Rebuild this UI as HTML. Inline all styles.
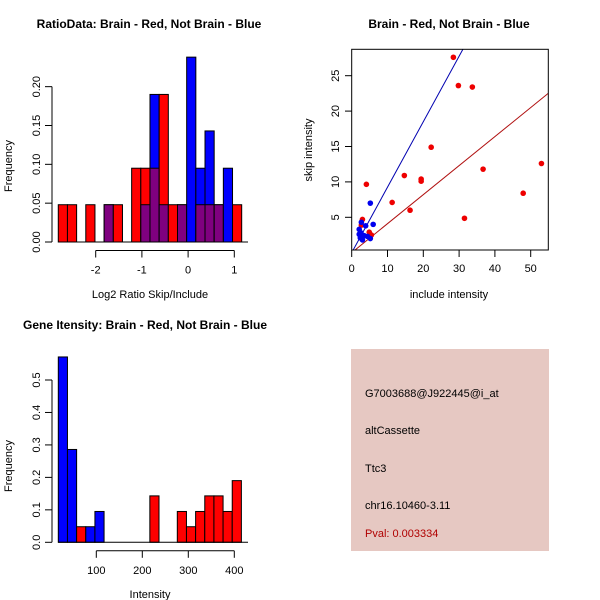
<!DOCTYPE html>
<html><head><meta charset="utf-8"><style>
body{margin:0;background:#fff}
svg{display:block;font-family:"Liberation Sans",sans-serif}
</style></head><body>
<svg id="s" width="600" height="600" viewBox="0 0 600 600">
<rect width="600" height="600" fill="#fff"/>
<text x="149" y="28" text-anchor="middle" font-weight="bold" font-size="12">RatioData: Brain - Red, Not Brain - Blue</text>
<text x="449" y="28" text-anchor="middle" font-weight="bold" font-size="12">Brain - Red, Not Brain - Blue</text>
<text x="145" y="329" text-anchor="middle" font-weight="bold" font-size="12">Gene Itensity: Brain - Red, Not Brain - Blue</text>
<g id="p1"></g>
<g id="p2"></g>
<g id="p3"></g>
<g>
<rect x="351" y="349" width="198" height="202" fill="#E6C8C2"/>
<text x="365" y="397" font-size="11">G7003688@J922445@i_at</text>
<text x="365" y="434" font-size="11">altCassette</text>
<text x="365" y="472" font-size="11">Ttc3</text>
<text x="365" y="509" font-size="11">chr16.10460-3.11</text>
<text x="365" y="537" font-size="11" fill="#B00000">Pval: 0.003334</text>
</g>
</svg>
<script>
// ratio histogram
const ratioRed  = [0.048,0.048,0,0.048,0,0.048,0.048,0,0.095,0.095,0.095,0.19,0.048,0.048,0,0.048,0.048,0.048,0,0.048];
const ratioBlue = [0,0,0,0,0,0.048,0,0,0,0.048,0.19,0.048,0,0.048,0.238,0.095,0.143,0.048,0.095,0];
const ratioXTicks = [-2,-1,0,1];
const ratioYTicks = ["0.00","0.05","0.10","0.15","0.20"];
const ratioStart = -2.81, ratioBin = 0.1985;
// intensity histogram
const intRed  = [0,0,0.048,0,0,0,0,0,0,0,0.143,0,0,0.095,0.048,0.095,0.143,0.143,0.095,0.19];
const intBlue = [0.571,0.286,0,0.048,0.095,0,0,0,0,0,0,0,0,0,0,0,0,0,0,0];
const intXTicks = [100,200,300,400];
const intYTicks = ["0.0","0.1","0.2","0.3","0.4","0.5"];
const intStart = 17.4, intBin = 19.9;
// scatter
const redX = [28.4,29.8,33.7,22.2,14.7,19.4,19.4,36.7,53,47.9,11.3,16.3,31.5,4.1,3.0,4.9,5.5,2.7];
const redY = [27.6,23.6,23.4,14.9,10.9,10.4,10.1,11.8,12.6,8.4,7.1,6.0,4.86,9.66,4.7,2.9,2.5,3.9];
const blueX = [5.2,6.0,2.7,3.9,2.1,2.6,3.5,2.4,3.0,5.2,4.4,2.1];
const blueY = [7.0,4.0,4.3,3.8,3.3,2.8,2.4,2.1,1.8,2.0,2.3,2.6];
const sXTicks = [0,10,20,30,40,50];
const sYTicks = [5,10,15,20,25];
const blueSlope = 0.925, redSlope = 0.41;

const NS="http://www.w3.org/2000/svg";
function mk(p,t,a,txt){const e=document.createElementNS(NS,t);for(const k in a)e.setAttribute(k,a[k]);if(txt!=null)e.textContent=txt;p.appendChild(e);return e;}

function hist(g,red,blue,start,bin,xs,ys,y0,xPx0,xPx1,yScale,xTicks,yTicks,xlab,xlabY){
  const X=v=>xs(v), Y=v=>y0-v*yScale;
  for(let i=0;i<red.length;i++){
    const a=X(start+i*bin), b=X(start+(i+1)*bin);
    const r=red[i], bl=blue[i], mn=Math.min(r,bl), mx=Math.max(r,bl);
    if(mx>0){
      let e=mk(g,'rect',{x:a,y:Y(mx),width:b-a,height:Y(0)-Y(mx),fill:r>=bl?'#FF0000':'#0000FF',stroke:'#000','stroke-width':1});
      
      
    }
    if(mn>0){
      let e=mk(g,'rect',{x:a,y:Y(mn),width:b-a,height:Y(0)-Y(mn),fill:'#7F007F',stroke:'#000','stroke-width':1});
      
      
    }
  }
  mk(g,'line',{x1:xPx0,x2:xPx1,y1:y0,y2:y0,stroke:'#000'});
  const yv=yTicks.map(Number);
  mk(g,'line',{x1:52,x2:52,y1:Y(yv[0]),y2:Y(yv[yv.length-1]),stroke:'#000'});
  yTicks.forEach(t=>{const y=Y(+t);mk(g,'line',{x1:45,x2:52,y1:y,y2:y,stroke:'#000'});
    let e=mk(g,'text',{x:0,y:0,'font-size':11,'text-anchor':'middle',transform:`translate(40,${y}) rotate(-90)`},t);
    
    });
  const ay=y0+8.5;
  mk(g,'line',{x1:X(xTicks[0]),x2:X(xTicks[xTicks.length-1]),y1:ay,y2:ay,stroke:'#000'});
  xTicks.forEach(t=>{const x=X(t);mk(g,'line',{x1:x,x2:x,y1:ay,y2:ay+7,stroke:'#000'});
    let e=mk(g,'text',{x:x,y:ay+23,'font-size':11,'text-anchor':'middle'},String(t));
    
    });
  let e=mk(g,'text',{x:0,y:0,'font-size':11,'text-anchor':'middle',transform:`translate(12,${y0-yScale*0.12-60}) rotate(-90)`},'Frequency');
  
  
  e=mk(g,'text',{x:150,y:xlabY,'font-size':11,'text-anchor':'middle'},xlab);
  
  
}
const g1=document.getElementById('p1');
hist(g1,ratioRed,ratioBlue,ratioStart,ratioBin,v=>95.7+(v+2)*46.2,null,242,58,248,776.7,ratioXTicks,ratioYTicks,'Log2 Ratio Skip/Include',298);
g1.lastChild.previousSibling.setAttribute('transform','translate(12,166) rotate(-90)');
const g3=document.getElementById('p3');
hist(g3,intRed,intBlue,intStart,intBin,v=>96.3+(v-100)*0.46,null,542.3,58,248,324.6,intXTicks,intYTicks,'Intensity',598);
g3.lastChild.previousSibling.setAttribute('transform','translate(12,466) rotate(-90)');

// scatter
const g2=document.getElementById('p2');
const SX=v=>351.7+v*3.58, SY=v=>252.7-v*7.08;
mk(g2,'defs',{}).innerHTML='<clipPath id="cp"><rect x="351.7" y="49.3" width="196.6" height="200.7"/></clipPath>';
const cl=mk(g2,'g',{'clip-path':'url(#cp)'});
let ln=mk(cl,'line',{x1:SX(0),y1:SY(0),x2:SX(60),y2:SY(60*blueSlope),stroke:'#0000B0'});


ln=mk(cl,'line',{x1:SX(0),y1:SY(0),x2:SX(60),y2:SY(60*redSlope),stroke:'#B01010'});


redX.forEach((x,i)=>{const c=mk(g2,'circle',{cx:SX(x),cy:SY(redY[i]),r:2.8,fill:'#EE0000'});
  
  });
blueX.forEach((x,i)=>{const c=mk(g2,'circle',{cx:SX(x),cy:SY(blueY[i]),r:2.8,fill:'#0000EE'});
  
  });
mk(g2,'rect',{x:351.7,y:49.3,width:196.6,height:200.7,fill:'none',stroke:'#000'});
sXTicks.forEach(t=>{const x=SX(t);mk(g2,'line',{x1:x,x2:x,y1:250,y2:257,stroke:'#000'});
  const e=mk(g2,'text',{x:x,y:272,'font-size':11,'text-anchor':'middle'},String(t));
  
  });
sYTicks.forEach(t=>{const y=SY(t);mk(g2,'line',{x1:345,x2:351.7,y1:y,y2:y,stroke:'#000'});
  const e=mk(g2,'text',{x:0,y:0,'font-size':11,'text-anchor':'middle',transform:`translate(339,${y}) rotate(-90)`},String(t));
  
  });
let t=mk(g2,'text',{x:449,y:298,'font-size':11,'text-anchor':'middle'},'include intensity');


t=mk(g2,'text',{x:0,y:0,'font-size':11,'text-anchor':'middle',transform:'translate(312,150) rotate(-90)'},'skip intensity');


</script>
</body></html>
